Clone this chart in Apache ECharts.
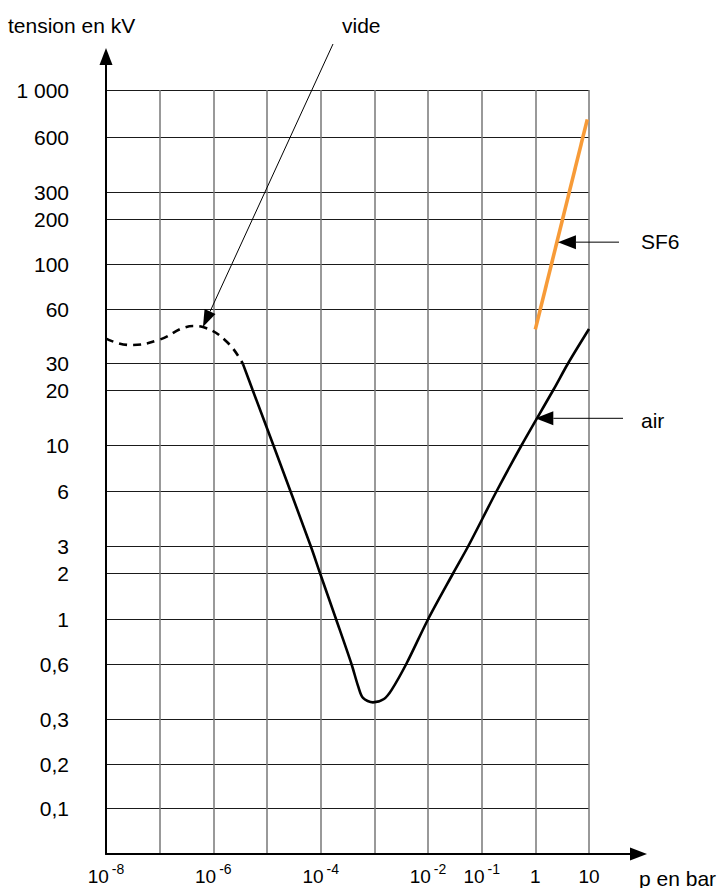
<!DOCTYPE html>
<html>
<head>
<meta charset="utf-8">
<script src="https://cdn.jsdelivr.net/npm/echarts@6/dist/echarts.min.js"></script>
<style>
html,body{margin:0;padding:0;background:#ffffff;}
#chart{width:720px;height:888px;}
</style>
</head>
<body>
<div id="chart"></div>
<script>
// ---------------- DATA ----------------
// vertical axis ticks (kV) and their printed labels
const kvTicks = [0.1, 0.2, 0.3, 0.6, 1, 2, 3, 6, 10, 20, 30, 60, 100, 200, 300, 600, 1000];
const kvTickLabels = ['0,1', '0,2', '0,3', '0,6', '1', '2', '3', '6', '10', '20', '30', '60', '100', '200', '300', '600', '1 000'];
// horizontal axis: decades (exponents) that carry a printed label
const pLabelExponents = [-8, -6, -4, -2, -1, 0, 1];

// vacuum curve (dashed)
const videP  = [1e-8, 2.8e-8, 1e-7, 2.96e-7, 4.55e-7, 6.4e-7, 1.8e-6, 3.57e-6];
const videKV = [41,   37.8,   40.5, 47.4,    48.2,    47.6,   39.3,   29.5];

// air curve (solid)
const airP  = [3.57e-6, 5.4e-6, 1.31e-5, 6.52e-5, 9.7e-5, 1.93e-4, 3.75e-4, 5.02e-4, 6.15e-4, 9.44e-4, 1.51e-3, 2.1e-3, 4.0e-3, 0.0101, 0.0296, 0.0564, 0.1905, 0.557, 2.16, 4.11, 10];
const airKV = [29.5,    20,     10,      3,       2,      1,       0.6,     0.451,   0.391,   0.370,   0.386,   0.433,  0.605,  1,      2,      3,      6,      10,    20,   30,   46.4];

// SF6 line
const sf6P  = [1, 9.29];
const sf6KV = [46.2, 727];

// annotation labels and the curve point each arrow points to [p, kV]
const noteTexts = ['vide', 'SF6', 'air'];
const noteTips  = [[6.4e-7, 47.6], [2.64, 140], [1, 14]];

// ---------------- LAYOUT ----------------
// schematic vertical ruler: position of each kV tick along the (hand drawn) vertical scale
const kvRuler = [46, 90, 135, 190, 235, 281, 308, 363, 409, 464, 491, 545, 590, 635, 662, 717, 764];
const RULER_MAX = 764;
const FONT = 'Liberation Sans, Arial, Helvetica, sans-serif';

function kvToRuler(v) {
  const lv = Math.log10(v);
  let i = 0;
  while (i < kvTicks.length - 2 && lv > Math.log10(kvTicks[i + 1])) i++;
  const a = Math.log10(kvTicks[i]), b = Math.log10(kvTicks[i + 1]);
  return kvRuler[i] + (lv - a) / (b - a) * (kvRuler[i + 1] - kvRuler[i]);
}
function pairs(xs, ys) { return xs.map((x, i) => [x, kvToRuler(ys[i])]); }

const chart = echarts.init(document.getElementById('chart'), null, {renderer: 'svg'});

const option = {
  animation: false,
  backgroundColor: '#ffffff',
  grid: [
    {left: 106, right: 131, top: 90, bottom: 34, outerBoundsMode: 'none'},
    {left: 106, right: 81.5, top: 56.5, bottom: 34, outerBoundsMode: 'none'}
  ],
  xAxis: [
    {
      gridIndex: 0, type: 'log', logBase: 10, min: 1e-8, max: 10, splitNumber: 9,
      axisLine: {show: false, onZero: false},
      axisTick: {show: false},
      splitLine: {show: true, lineStyle: {color: '#777777', width: 1.5}},
      axisLabel: {
        show: true, margin: 8, showMinLabel: true, showMaxLabel: true,
        formatter: function (v) {
          const e = Math.round(Math.log10(v));
          if (pLabelExponents.indexOf(e) < 0) return '';
          if (e === 0) return '{b|1}';
          if (e === 1) return '{b|10}';
          return '{b|10}{s|' + e + '}';
        },
        rich: {
          b: {fontSize: 19, fontFamily: FONT, color: '#000', lineHeight: 24, verticalAlign: 'bottom'},
          s: {fontSize: 14, fontFamily: FONT, color: '#000', lineHeight: 24, verticalAlign: 'top', padding: [0, 0, 0, 3]}
        }
      }
    },
    {
      gridIndex: 1, type: 'value', min: 0, max: 1,
      axisLine: {show: true, onZero: false, symbol: ['none', 'triangle'], symbolSize: [13, 17], lineStyle: {color: '#000', width: 2}},
      axisTick: {show: false}, axisLabel: {show: false}, splitLine: {show: false}
    }
  ],
  yAxis: [
    {
      gridIndex: 0, type: 'value', min: 0, max: RULER_MAX,
      axisLine: {show: false, onZero: false},
      axisTick: {show: false, customValues: kvRuler},
      splitLine: {show: true, lineStyle: {color: '#1a1a1a', width: 1}},
      axisLabel: {
        show: true, customValues: kvRuler, margin: 37,
        fontSize: 21, fontFamily: FONT, color: '#000', padding: [4, 0, 0, 0],
        formatter: function (v) {
          let best = 0;
          for (let i = 1; i < kvRuler.length; i++) {
            if (Math.abs(kvRuler[i] - v) < Math.abs(kvRuler[best] - v)) best = i;
          }
          return Math.abs(kvRuler[best] - v) < 0.5 ? kvTickLabels[best] : '';
        }
      }
    },
    {
      gridIndex: 1, type: 'value', min: 0, max: 1,
      axisLine: {show: true, onZero: false, symbol: ['none', 'triangle'], symbolSize: [13, 17], lineStyle: {color: '#000', width: 2}},
      axisTick: {show: false}, axisLabel: {show: false}, splitLine: {show: false}
    }
  ],
  series: [
    {
      name: 'vide', type: 'line', xAxisIndex: 0, yAxisIndex: 0,
      data: pairs(videP, videKV), smooth: 0.45, showSymbol: false, symbol: 'none',
      lineStyle: {color: '#000', width: 2.6, type: [8, 6]}, z: 5
    },
    {
      name: 'air', type: 'line', xAxisIndex: 0, yAxisIndex: 0,
      data: pairs(airP, airKV), smooth: 0.3, showSymbol: false, symbol: 'none',
      lineStyle: {color: '#000', width: 2.6}, z: 5
    },
    {
      name: 'SF6', type: 'line', xAxisIndex: 0, yAxisIndex: 0,
      data: pairs(sf6P, sf6KV), showSymbol: false, symbol: 'none',
      lineStyle: {color: '#f79b38', width: 3.6}, z: 6
    }
  ]
};
chart.setOption(option);

// ---------- annotations (arrows point to the curve through the axes) ----------
function arrow(tail, tip, len, half) {
  const dx = tip[0] - tail[0], dy = tip[1] - tail[1];
  const L = Math.sqrt(dx * dx + dy * dy);
  const ux = dx / L, uy = dy / L, nx = -uy, ny = ux;
  const bx = tip[0] - ux * len, by = tip[1] - uy * len;
  return [
    {type: 'line', z: 100, shape: {x1: tail[0], y1: tail[1], x2: bx, y2: by}, style: {stroke: '#000', lineWidth: 1}},
    {type: 'polygon', z: 100, shape: {points: [[tip[0], tip[1]], [bx + nx * half, by + ny * half], [bx - nx * half, by - ny * half]]}, style: {fill: '#000'}}
  ];
}
function label(text, x, y) {
  return {type: 'text', z: 100, x: x, y: y,
    style: {text: text, fontSize: 21, fontFamily: FONT, fill: '#000', align: 'left', verticalAlign: 'middle'}};
}
const tips = noteTips.map(t => chart.convertToPixel({gridIndex: 0}, [t[0], kvToRuler(t[1])]));
const graphics = [];
graphics.push(...arrow([333, 44], tips[0], 17, 6));
graphics.push(...arrow([619, tips[1][1]], tips[1], 18, 7));
graphics.push(...arrow([623, tips[2][1]], tips[2], 18, 7));
graphics.push(label(noteTexts[0], 342, 25));
graphics.push(label(noteTexts[1], 641, 241));
graphics.push(label(noteTexts[2], 641, 420));
graphics.push(label('tension en kV', 8, 25));
graphics.push(label('p en bar', 639, 878));
chart.setOption({graphic: graphics});
</script>
</body>
</html>
